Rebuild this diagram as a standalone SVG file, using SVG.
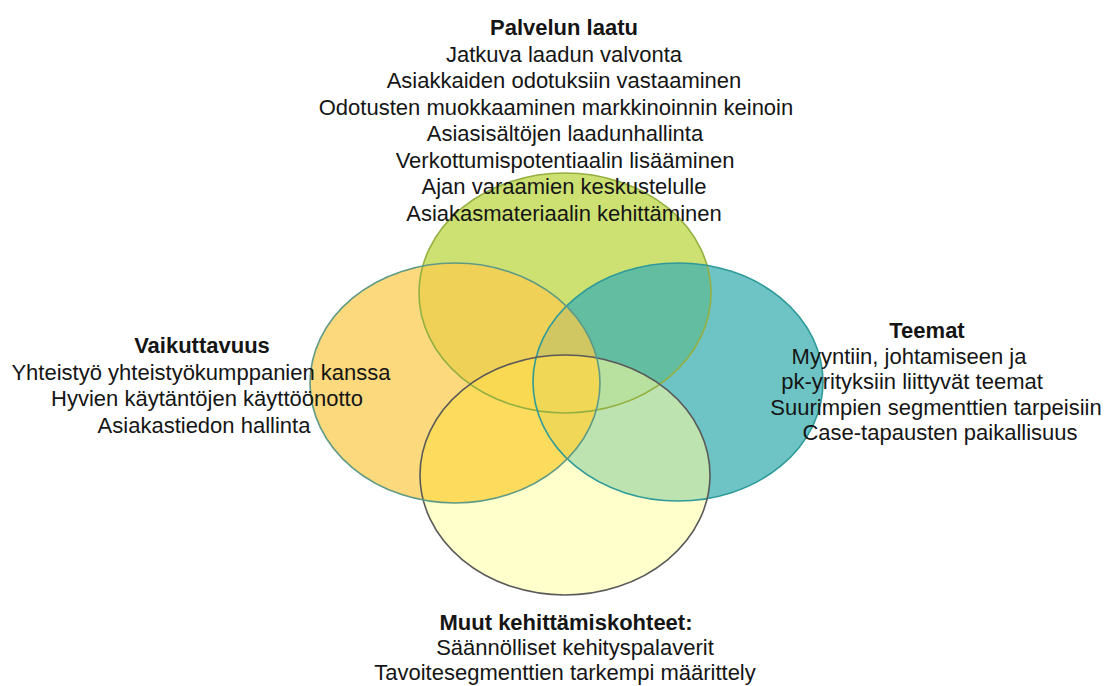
<svg xmlns="http://www.w3.org/2000/svg" width="1107" height="686" viewBox="0 0 1107 686">
<style>
.t{font-family:"Liberation Sans",Arial,sans-serif;font-size:22px;fill:#151515;text-anchor:middle}
.b{font-weight:bold}
.o{fill:none;stroke-width:1.6}
</style>
<defs>
<clipPath id="clipLeft"><ellipse cx="455" cy="383" rx="145" ry="120"/></clipPath>
</defs>
<rect width="1107" height="686" fill="#ffffff"/>
<g id="fills">
<ellipse id="green" cx="565" cy="293" rx="146" ry="120" fill="#bcd744" fill-opacity="0.75"/>
<ellipse id="teal" cx="678" cy="382" rx="145" ry="119" fill="#3eb0b0" fill-opacity="0.75"/>
<ellipse id="bottom" cx="565" cy="475" rx="145" ry="120" fill="#ffffa0" fill-opacity="0.55"/>
<ellipse id="left" cx="455" cy="383" rx="145" ry="120" fill="#fbcb4b" fill-opacity="0.72"/>
<ellipse cx="565" cy="475" rx="145" ry="120" fill="#ffe13c" fill-opacity="0.35" clip-path="url(#clipLeft)"/>
</g>
<g id="outlines">
<ellipse class="o" cx="565" cy="293" rx="146" ry="120" stroke="#94b040"/>
<ellipse class="o" cx="678" cy="382" rx="145" ry="119" stroke="#2f9a9a"/>
<ellipse class="o" cx="565" cy="475" rx="145" ry="120" stroke="#5a5a5a"/>
<ellipse class="o" cx="455" cy="383" rx="145" ry="120" stroke="#5e9a86"/>
</g>
<g id="palvelun">
<text class="t b" x="564" y="35">Palvelun laatu</text>
<text class="t" x="564" y="62">Jatkuva laadun valvonta</text>
<text class="t" x="564" y="88">Asiakkaiden odotuksiin vastaaminen</text>
<text class="t" x="556" y="115">Odotusten muokkaaminen markkinoinnin keinoin</text>
<text class="t" x="565" y="141">Asiasisältöjen laadunhallinta</text>
<text class="t" x="565" y="168">Verkottumispotentiaalin lisääminen</text>
<text class="t" x="564" y="194">Ajan varaamien keskustelulle</text>
<text class="t" x="564" y="221">Asiakasmateriaalin kehittäminen</text>
</g>
<g id="vaikuttavuus">
<text class="t b" x="202" y="353">Vaikuttavuus</text>
<text class="t" x="201" y="380">Yhteistyö yhteistyökumppanien kanssa</text>
<text class="t" x="207" y="406">Hyvien käytäntöjen käyttöönotto</text>
<text class="t" x="204" y="433">Asiakastiedon hallinta</text>
</g>
<g id="teemat">
<text class="t b" x="927" y="338">Teemat</text>
<text class="t" x="909" y="364">Myyntiin, johtamiseen ja</text>
<text class="t" x="912" y="389">pk-yrityksiin liittyvät teemat</text>
<text class="t" x="936" y="415">Suurimpien segmenttien tarpeisiin</text>
<text class="t" x="940" y="440">Case-tapausten paikallisuus</text>
</g>
<g id="muut">
<text class="t b" x="566" y="630">Muut kehittämiskohteet:</text>
<text class="t" x="575" y="655">Säännölliset kehityspalaverit</text>
<text class="t" x="565" y="680">Tavoitesegmenttien tarkempi määrittely</text>
</g>
<g id="connectors"/>
</svg>
